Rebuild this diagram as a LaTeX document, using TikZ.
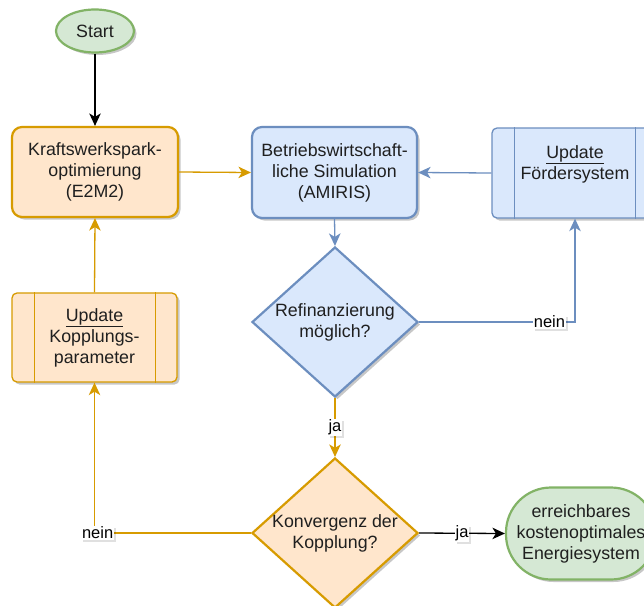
\documentclass[tikz,border=0pt]{standalone}
\usepackage{fontspec}
\setmainfont{Liberation Sans}
\usetikzlibrary{shapes.geometric,arrows.meta,shadows}
\definecolor{orS}{HTML}{D79B00}
\definecolor{orF}{HTML}{FFE6CC}
\definecolor{blS}{HTML}{6C8EBF}
\definecolor{blF}{HTML}{DAE8FC}
\definecolor{grS}{HTML}{82B366}
\definecolor{grF}{HTML}{D5E8D4}
\tikzset{
 shade/.style={drop shadow={shadow xshift=2.5pt, shadow yshift=-2.5pt, opacity=0.22, fill=black}},
 lshade/.style={drop shadow={shadow xshift=2pt, shadow yshift=-2pt, opacity=0.12, fill=black}},
 base/.style={align=center, inner sep=0pt, text=black!88, shade},
 procbox/.style={base, rectangle, rounded corners=10pt, line width=2.2pt, minimum width=166pt, minimum height=90pt},
 subbox/.style={base, rectangle, rounded corners=5pt, line width=1.3pt, minimum width=166pt, minimum height=90pt},
 decbox/.style={base, diamond, line width=2.2pt, minimum width=166pt, minimum height=150pt},
 termbox/.style={base, ellipse, line width=2.2pt, draw=grS, fill=grF},
 stadium/.style={base, rectangle, rounded corners=45pt, line width=2.2pt, draw=grS, fill=grF},
 txt/.style={align=center, inner sep=0pt, text=black!88},
 arr/.style={line width=1.3pt, -{Stealth[length=12.5pt,width=11.5pt,inset=3.5pt]}},
 lbl/.style={fill=white, font=\fontsize{16.5}{18}\selectfont, inner sep=1pt, text=black, lshade},
}
\begin{document}
\begin{tikzpicture}[x=1pt,y=-1pt,font=\fontsize{17.8}{21}\selectfont]
\useasboundingbox (0,0) rectangle (644,605);
\clip (0,0) rectangle (644,605);
\fill[white] (0,0) rectangle (644,605);

% shapes
\node[termbox, minimum width=78pt, minimum height=43pt] (start) at (95,31) {Start};
\node[procbox, draw=orS, fill=orF] (e2m2) at (95,172) {Kraftswerkspark-\\optimierung\\(E2M2)};
\node[procbox, draw=blS, fill=blF, minimum width=165pt, minimum height=91pt] (amiris) at (334.5,172.5) {Betriebswirtschaft-\\liche Simulation\\(AMIRIS)};
\node[subbox, draw=blS, fill=blF] (foerder) at (575,173) {\underline{Update}\\Fördersystem\\\mbox{}};
\draw[blS, line width=1.3pt] ([xshift=23pt]foerder.north west) -- ([xshift=23pt]foerder.south west)
  ([xshift=-23pt]foerder.north east) -- ([xshift=-23pt]foerder.south east);
\node[subbox, draw=orS, fill=orF, minimum width=165pt, minimum height=89pt] (kopp) at (94.5,337.5) {\underline{Update}\\Kopplungs-\\parameter};
\draw[orS, line width=1.3pt] ([xshift=23pt]kopp.north west) -- ([xshift=23pt]kopp.south west)
  ([xshift=-22pt]kopp.north east) -- ([xshift=-22pt]kopp.south east);
\node[decbox, draw=blS, fill=blF] (refi) at (335,322) {};
\node[txt] (refitext) at (335,322) {Refinanzierung\\möglich?};
\node[decbox, draw=orS, fill=orF] (konv) at (335,533) {};
\node[txt] (konvtext) at (335,533) {Konvergenz der\\Kopplung?};
\node[stadium, minimum width=150pt, minimum height=92pt] (final) at (581,533.5) {erreichbares\\kostenoptimales\\Energiesystem};

% connectors
\draw[arr, black] (start.south) -- (start.south |- e2m2.north);
\draw[arr, orS] (e2m2.east) -- (amiris.west);
\draw[arr, blS] (foerder.west) -- (amiris.east);
\draw[arr, blS] (amiris.south) -- (refi.north);
\draw[arr, blS] (refi.east) -| node[lbl, pos=0.418] (l1) {nein} (foerder.south);
\draw[arr, orS] (refi.south) -- node[lbl] (l2) {ja} (konv.north);
\draw[arr, black] (konv.east) -- node[lbl] (l3) {ja} (final.west);
\draw[arr, orS] (konv.west) -| node[lbl, pos=0.49] (l4) {nein} (kopp.south);
\draw[arr, orS] (kopp.north) -- (e2m2.south);
\end{tikzpicture}
\end{document}
